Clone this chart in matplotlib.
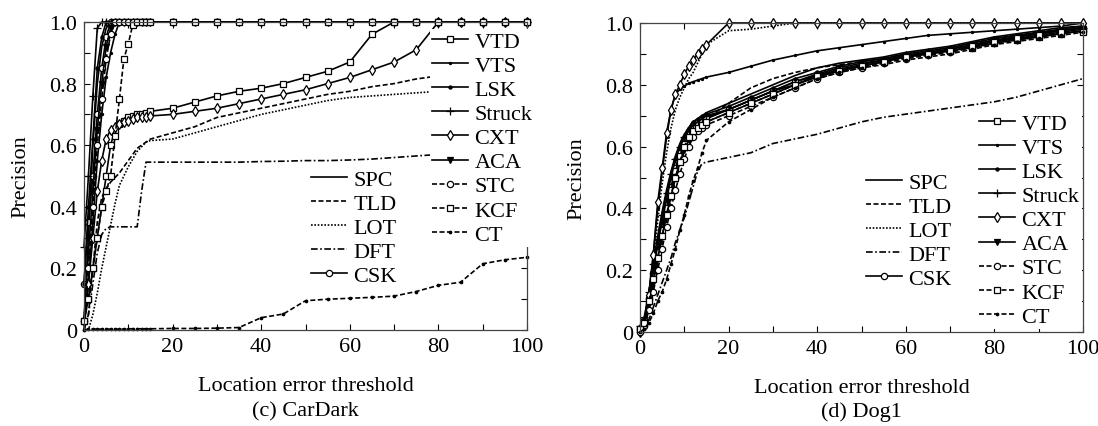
import matplotlib
matplotlib.use('Agg')
import matplotlib.pyplot as plt

plt.rcParams['font.family'] = ['Liberation Serif', 'DejaVu Serif']
plt.rcParams['font.size'] = 16

# threshold grid used for both charts
X = [0, 1, 2, 3, 4, 5, 6, 7, 8, 9, 10, 11, 12, 13, 14, 15,
     20, 25, 30, 35, 40, 45, 50, 55, 60, 65, 70, 75, 80, 85, 90, 95, 100]

trackers_a = ['SPC', 'TLD', 'LOT', 'DFT', 'CSK']
trackers_b = ['VTD', 'VTS', 'LSK', 'Struck', 'CXT', 'ACA', 'STC', 'KCF', 'CT']

# (c) CarDark
car = {
    'SPC': [0.03, 0.30, 0.60, 0.80, 0.92, 0.98, 1.0, 1.0, 1.0, 1.0, 1.0, 1.0, 1.0, 1.0, 1.0, 1.0,
            1.0, 1.0, 1.0, 1.0, 1.0, 1.0, 1.0, 1.0, 1.0, 1.0, 1.0, 1.0, 1.0, 1.0, 1.0, 1.0, 1.0],
    'TLD': [0.0, 0.05, 0.20, 0.35, 0.43, 0.46, 0.48, 0.495, 0.51, 0.53, 0.55, 0.57, 0.59, 0.60, 0.61, 0.62,
            0.64, 0.66, 0.69, 0.705, 0.72, 0.735, 0.75, 0.765, 0.775, 0.79, 0.80, 0.815, 0.825, 0.835, 0.845, 0.855, 0.865],
    'LOT': [0.0, 0.0, 0.05, 0.12, 0.20, 0.27, 0.34, 0.41, 0.47, 0.50, 0.53, 0.555, 0.58, 0.595, 0.61, 0.615,
            0.62, 0.64, 0.66, 0.68, 0.70, 0.715, 0.73, 0.745, 0.755, 0.76, 0.765, 0.77, 0.775, 0.78, 0.785, 0.79, 0.80],
    'DFT': [0.0, 0.05, 0.15, 0.25, 0.31, 0.33, 0.335, 0.335, 0.335, 0.335, 0.335, 0.335, 0.335, 0.45, 0.545, 0.545,
            0.545, 0.545, 0.545, 0.545, 0.547, 0.548, 0.55, 0.55, 0.552, 0.555, 0.56, 0.565, 0.57, 0.575, 0.58, 0.585, 0.59],
    'CSK': [0.15, 0.35, 0.50, 0.70, 0.85, 0.95, 1.0, 1.0, 1.0, 1.0, 1.0, 1.0, 1.0, 1.0, 1.0, 1.0,
            1.0, 1.0, 1.0, 1.0, 1.0, 1.0, 1.0, 1.0, 1.0, 1.0, 1.0, 1.0, 1.0, 1.0, 1.0, 1.0, 1.0],
    'VTD': [0.03, 0.10, 0.20, 0.30, 0.40, 0.50, 0.60, 0.65, 0.67, 0.68, 0.69, 0.695, 0.70, 0.70, 0.705, 0.71,
            0.72, 0.74, 0.76, 0.775, 0.785, 0.80, 0.82, 0.84, 0.87, 0.96, 1.0, 1.0, 1.0, 1.0, 1.0, 1.0, 1.0],
    'VTS': [0.0, 0.15, 0.35, 0.55, 0.70, 0.82, 0.90, 0.96, 1.0, 1.0, 1.0, 1.0, 1.0, 1.0, 1.0, 1.0,
            1.0, 1.0, 1.0, 1.0, 1.0, 1.0, 1.0, 1.0, 1.0, 1.0, 1.0, 1.0, 1.0, 1.0, 1.0, 1.0, 1.0],
    'LSK': [0.15, 0.40, 0.62, 0.85, 0.95, 1.0, 1.0, 1.0, 1.0, 1.0, 1.0, 1.0, 1.0, 1.0, 1.0, 1.0,
            1.0, 1.0, 1.0, 1.0, 1.0, 1.0, 1.0, 1.0, 1.0, 1.0, 1.0, 1.0, 1.0, 1.0, 1.0, 1.0, 1.0],
    'Struck': [0.27, 0.50, 0.76, 0.98, 1.0, 1.0, 1.0, 1.0, 1.0, 1.0, 1.0, 1.0, 1.0, 1.0, 1.0, 1.0,
               1.0, 1.0, 1.0, 1.0, 1.0, 1.0, 1.0, 1.0, 1.0, 1.0, 1.0, 1.0, 1.0, 1.0, 1.0, 1.0, 1.0],
    'CXT': [0.03, 0.15, 0.30, 0.45, 0.55, 0.62, 0.65, 0.66, 0.67, 0.675, 0.68, 0.685, 0.69, 0.69, 0.69, 0.695,
            0.70, 0.71, 0.72, 0.735, 0.75, 0.765, 0.78, 0.80, 0.82, 0.845, 0.87, 0.91, 1.0, 1.0, 1.0, 1.0, 1.0],
    'ACA': [0.03, 0.25, 0.45, 0.65, 0.80, 0.92, 0.98, 1.0, 1.0, 1.0, 1.0, 1.0, 1.0, 1.0, 1.0, 1.0,
            1.0, 1.0, 1.0, 1.0, 1.0, 1.0, 1.0, 1.0, 1.0, 1.0, 1.0, 1.0, 1.0, 1.0, 1.0, 1.0, 1.0],
    'STC': [0.03, 0.20, 0.40, 0.60, 0.75, 0.88, 0.96, 1.0, 1.0, 1.0, 1.0, 1.0, 1.0, 1.0, 1.0, 1.0,
            1.0, 1.0, 1.0, 1.0, 1.0, 1.0, 1.0, 1.0, 1.0, 1.0, 1.0, 1.0, 1.0, 1.0, 1.0, 1.0, 1.0],
    'KCF': [0.03, 0.10, 0.20, 0.30, 0.40, 0.45, 0.50, 0.63, 0.75, 0.88, 0.93, 0.99, 1.0, 1.0, 1.0, 1.0,
            1.0, 1.0, 1.0, 1.0, 1.0, 1.0, 1.0, 1.0, 1.0, 1.0, 1.0, 1.0, 1.0, 1.0, 1.0, 1.0, 1.0],
    'CT': [0.0, 0.003, 0.003, 0.003, 0.003, 0.003, 0.003, 0.003, 0.003, 0.003, 0.004, 0.004, 0.004, 0.004, 0.004, 0.004,
           0.005, 0.005, 0.006, 0.008, 0.04, 0.052, 0.095, 0.10, 0.103, 0.106, 0.11, 0.125, 0.145, 0.155, 0.215, 0.228, 0.236],
}

# (d) Dog1
dog = {
    'SPC': [0.0, 0.04, 0.13, 0.22, 0.31, 0.39, 0.46, 0.52, 0.57, 0.61, 0.64, 0.66, 0.68, 0.69, 0.70, 0.71,
            0.74, 0.77, 0.80, 0.83, 0.855, 0.87, 0.88, 0.89, 0.905, 0.915, 0.925, 0.94, 0.955, 0.965, 0.975, 0.985, 0.99],
    'TLD': [0.0, 0.02, 0.08, 0.15, 0.22, 0.29, 0.36, 0.43, 0.50, 0.56, 0.61, 0.64, 0.66, 0.67, 0.68, 0.69,
            0.74, 0.79, 0.82, 0.84, 0.855, 0.865, 0.875, 0.885, 0.90, 0.91, 0.92, 0.935, 0.95, 0.96, 0.97, 0.975, 0.985],
    'LOT': [0.0, 0.02, 0.10, 0.22, 0.36, 0.48, 0.58, 0.66, 0.72, 0.76, 0.79, 0.82, 0.84, 0.87, 0.90, 0.93,
            0.975, 0.98, 0.99, 1.0, 1.0, 1.0, 1.0, 1.0, 1.0, 1.0, 1.0, 1.0, 1.0, 1.0, 1.0, 1.0, 1.0],
    'DFT': [0.0, 0.01, 0.04, 0.08, 0.12, 0.16, 0.20, 0.24, 0.29, 0.33, 0.37, 0.42, 0.47, 0.52, 0.545, 0.55,
            0.565, 0.58, 0.61, 0.625, 0.64, 0.66, 0.68, 0.695, 0.705, 0.715, 0.725, 0.735, 0.745, 0.76, 0.78, 0.80, 0.82],
    'CSK': [0.01, 0.04, 0.11, 0.19, 0.27, 0.34, 0.41, 0.47, 0.53, 0.58, 0.62, 0.65, 0.67, 0.68, 0.69, 0.695,
            0.72, 0.75, 0.78, 0.81, 0.835, 0.855, 0.87, 0.88, 0.895, 0.905, 0.915, 0.93, 0.945, 0.955, 0.965, 0.975, 0.985],
    'VTD': [0.01, 0.03, 0.10, 0.18, 0.26, 0.33, 0.40, 0.46, 0.52, 0.57, 0.61, 0.64, 0.66, 0.67, 0.68, 0.69,
            0.72, 0.75, 0.78, 0.81, 0.83, 0.85, 0.86, 0.875, 0.89, 0.90, 0.91, 0.92, 0.935, 0.945, 0.955, 0.965, 0.975],
    'VTS': [0.0, 0.03, 0.12, 0.25, 0.40, 0.52, 0.63, 0.72, 0.77, 0.785, 0.795, 0.805, 0.81, 0.815, 0.82, 0.825,
            0.84, 0.86, 0.88, 0.895, 0.91, 0.92, 0.93, 0.94, 0.95, 0.96, 0.965, 0.97, 0.975, 0.98, 0.985, 0.99, 1.0],
    'LSK': [0.0, 0.04, 0.12, 0.20, 0.28, 0.36, 0.43, 0.50, 0.56, 0.60, 0.63, 0.66, 0.68, 0.69, 0.70, 0.705,
            0.73, 0.76, 0.79, 0.82, 0.84, 0.86, 0.875, 0.885, 0.90, 0.91, 0.92, 0.935, 0.95, 0.96, 0.97, 0.98, 0.99],
    'Struck': [0.02, 0.05, 0.13, 0.22, 0.30, 0.38, 0.45, 0.51, 0.56, 0.60, 0.63, 0.65, 0.67, 0.68, 0.69, 0.70,
               0.72, 0.75, 0.78, 0.80, 0.83, 0.85, 0.865, 0.88, 0.895, 0.905, 0.915, 0.93, 0.94, 0.955, 0.965, 0.975, 0.985],
    'CXT': [0.0, 0.03, 0.12, 0.25, 0.42, 0.53, 0.645, 0.72, 0.77, 0.80, 0.835, 0.86, 0.88, 0.90, 0.915, 0.93,
            1.0, 1.0, 1.0, 1.0, 1.0, 1.0, 1.0, 1.0, 1.0, 1.0, 1.0, 1.0, 1.0, 1.0, 1.0, 1.0, 1.0],
    'ACA': [0.01, 0.03, 0.09, 0.16, 0.24, 0.31, 0.38, 0.44, 0.50, 0.55, 0.59, 0.62, 0.65, 0.66, 0.67, 0.68,
            0.71, 0.74, 0.77, 0.80, 0.825, 0.845, 0.86, 0.875, 0.89, 0.90, 0.91, 0.925, 0.94, 0.95, 0.96, 0.97, 0.98],
    'STC': [0.0, 0.02, 0.07, 0.13, 0.20, 0.27, 0.34, 0.40, 0.46, 0.51, 0.56, 0.60, 0.63, 0.65, 0.66, 0.67,
            0.70, 0.73, 0.76, 0.79, 0.82, 0.84, 0.855, 0.87, 0.885, 0.895, 0.905, 0.92, 0.935, 0.945, 0.955, 0.965, 0.975],
    'KCF': [0.01, 0.03, 0.10, 0.17, 0.24, 0.31, 0.38, 0.44, 0.50, 0.55, 0.60, 0.63, 0.65, 0.66, 0.67, 0.68,
            0.71, 0.74, 0.77, 0.80, 0.83, 0.845, 0.86, 0.875, 0.89, 0.90, 0.91, 0.925, 0.94, 0.95, 0.96, 0.97, 0.97],
    'CT': [0.0, 0.01, 0.03, 0.06, 0.10, 0.13, 0.17, 0.22, 0.27, 0.33, 0.38, 0.44, 0.49, 0.53, 0.58, 0.62,
           0.68, 0.72, 0.76, 0.79, 0.82, 0.84, 0.855, 0.865, 0.88, 0.89, 0.90, 0.915, 0.93, 0.94, 0.95, 0.96, 0.97],
}

styles = {
    'SPC': dict(ls='-', marker=None),
    'TLD': dict(ls=(0, (3, 1.5)), marker=None),
    'LOT': dict(ls=(0, (1, 1)), marker=None),
    'DFT': dict(ls=(0, (4, 1.5, 1, 1.5)), marker=None),
    'CSK': dict(ls='-', marker='o', ms=4.5, mfc='white'),
    'VTD': dict(ls='-', marker='s', ms=4.5, mfc='white'),
    'VTS': dict(ls='-', marker='.', ms=3),
    'LSK': dict(ls='-', marker='.', ms=4.5),
    'Struck': dict(ls='-', marker='+', ms=6),
    'CXT': dict(ls='-', marker='d', ms=5, mfc='white'),
    'ACA': dict(ls='-', marker='v', ms=5),
    'STC': dict(ls=(0, (3, 1.5)), marker='o', ms=4.5, mfc='white'),
    'KCF': dict(ls=(0, (3, 1.5)), marker='s', ms=4.5, mfc='white'),
    'CT': dict(ls=(0, (3, 1.5)), marker='.', ms=3.5),
}

fig = plt.figure(figsize=(10.98, 4.27), dpi=100)
ax1 = fig.add_axes([84 / 1098, 96 / 427, 443 / 1098, 308 / 427])
ax2 = fig.add_axes([640 / 1098, 94 / 427, 443 / 1098, 309 / 427])


def draw(ax, data, leg_a, leg_b):
    lines = {}
    for name in trackers_a + trackers_b:
        st = styles[name]
        ln, = ax.plot(X, data[name], color='black', lw=1.2, mec='black', mew=0.9,
                      label=name, clip_on=False, **st)
        lines[name] = ln
    ax.set_xlim(0, 100)
    ax.set_ylim(0, 1.0)
    ax.set_xticks(range(0, 101, 10))
    ax.set_xticklabels([str(v) if v % 20 == 0 else '' for v in range(0, 101, 10)])
    yt = [i / 10 for i in range(11)]
    ax.set_yticks(yt)
    ax.set_yticklabels(['0', '', '0.2', '', '0.4', '', '0.6', '', '0.8', '', '1.0'])
    ax.tick_params(direction='in', length=4, width=0.8, top=True, right=True,
                   labelsize=16, pad=5)
    for s in ax.spines.values():
        s.set_linewidth(0.9)
        s.set_color('#444444')
    ax.set_ylabel('Precision', fontsize=16)
    ax.yaxis.set_label_coords(-0.12, 0.5)
    ax.set_xlabel('Location error threshold', fontsize=16)
    ax.xaxis.set_label_coords(0.5, -0.15)

    common = dict(frameon=True, fancybox=False, edgecolor='none', facecolor='white',
                  framealpha=1, borderpad=0.1, handlelength=1.6, handletextpad=0.3,
                  labelspacing=0.16, fontsize=16, loc='upper left', borderaxespad=0)
    l1 = ax.legend([lines[n] for n in trackers_a], trackers_a,
                   bbox_to_anchor=leg_a, **common)
    l1.set_zorder(5)
    ax.add_artist(l1)
    l2 = ax.legend([lines[n] for n in trackers_b], trackers_b,
                   bbox_to_anchor=leg_b, **common)
    l2.set_zorder(5)


draw(ax1, car, ((309 - 84) / 443, (331 - 168) / 308), ((430 - 84) / 443, (331 - 30) / 308))
draw(ax2, dog, ((864 - 640) / 443, (333 - 171) / 309), ((977 - 640) / 443, (333 - 112) / 309))

fig.text(305 / 1098, 1 - 412 / 427, '(c) CarDark', ha='center', va='center', fontsize=16)
fig.text(861 / 1098, 1 - 412 / 427, '(d) Dog1', ha='center', va='center', fontsize=16)

fig.savefig('out.png', dpi=100, facecolor='white')
